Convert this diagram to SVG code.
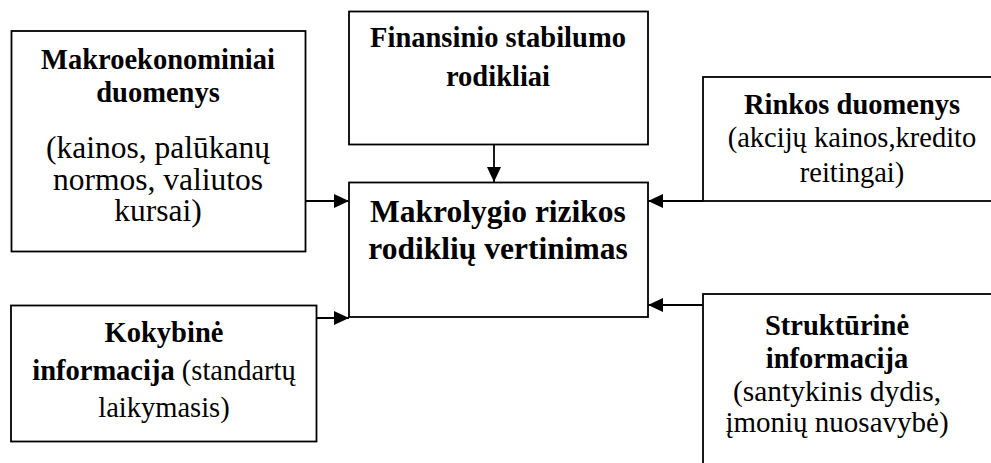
<svg xmlns="http://www.w3.org/2000/svg" width="991" height="463" viewBox="0 0 991 463">
<defs>
<style>
.box{fill:#fff;stroke:#000;stroke-width:1.8}
.con{fill:none;stroke:#000;stroke-width:1.8}
text{font-family:"Liberation Serif","Times New Roman",serif;fill:#000;text-anchor:middle}
.b{font-weight:bold;font-size:28.5px}
.r{font-size:28.5px}
.bl{font-weight:bold;font-size:31.5px}
.rl{font-size:31.5px}
</style>
<marker id="ah" markerUnits="userSpaceOnUse" markerWidth="16" markerHeight="16" refX="15" refY="7" orient="auto">
<path d="M0,0 L15,7 L0,14 Z" fill="#000"/>
</marker>
</defs>
<rect width="991" height="463" fill="#fff"/>
<g id="makro">
<rect class="box" x="11.5" y="31" width="294" height="220.5"/>
<text class="b" x="158" y="69">Makroekonominiai</text>
<text class="b" x="158" y="101.5">duomenys</text>
<text class="rl" x="158" y="158">(kainos, palūkanų</text>
<text class="rl" x="158" y="190">normos, valiutos</text>
<text class="rl" x="158" y="221">kursai)</text>
</g>
<g id="finans">
<rect class="box" x="349" y="11.5" width="299" height="133"/>
<text class="b" x="498" y="47">Finansinio stabilumo</text>
<text class="b" x="498" y="86">rodikliai</text>
</g>
<g id="center">
<rect class="box" x="349" y="182.5" width="299" height="134.5"/>
<text class="bl" x="498" y="221.5">Makrolygio rizikos</text>
<text class="bl" x="498" y="258.5">rodiklių vertinimas</text>
</g>
<g id="rinkos">
<rect class="box" x="703" y="77" width="300" height="124"/>
<text class="b" x="852" y="114">Rinkos duomenys</text>
<text class="r" x="852" y="147">(akcijų kainos,kredito</text>
<text class="r" x="852" y="182">reitingai)</text>
</g>
<g id="kokybine">
<rect class="box" x="11" y="305.5" width="305.5" height="136"/>
<text class="b" x="164" y="342">Kokybinė</text>
<text x="164" y="380"><tspan class="b">informacija</tspan><tspan class="r"> (standartų</tspan></text>
<text class="r" x="164" y="417">laikymasis)</text>
</g>
<g id="strukturine">
<rect class="box" x="703" y="294" width="300" height="180"/>
<text class="b" x="837" y="335">Struktūrinė</text>
<text class="b" x="837" y="367.5">informacija</text>
<text class="r" x="837" y="400.5" style="font-size:29.5px">(santykinis dydis,</text>
<text class="r" x="837" y="432" style="font-size:29px">įmonių nuosavybė)</text>
</g>
<g id="connectors">
<path class="con" d="M494,144.5 L494,182" marker-end="url(#ah)"/>
<path class="con" d="M305.5,201 L349,201" marker-end="url(#ah)"/>
<path class="con" d="M703,201 L648,201" marker-end="url(#ah)"/>
<path class="con" d="M316.5,318 L349,318" marker-end="url(#ah)"/>
<path class="con" d="M703,305 L648,305" marker-end="url(#ah)"/>
</g>
</svg>
